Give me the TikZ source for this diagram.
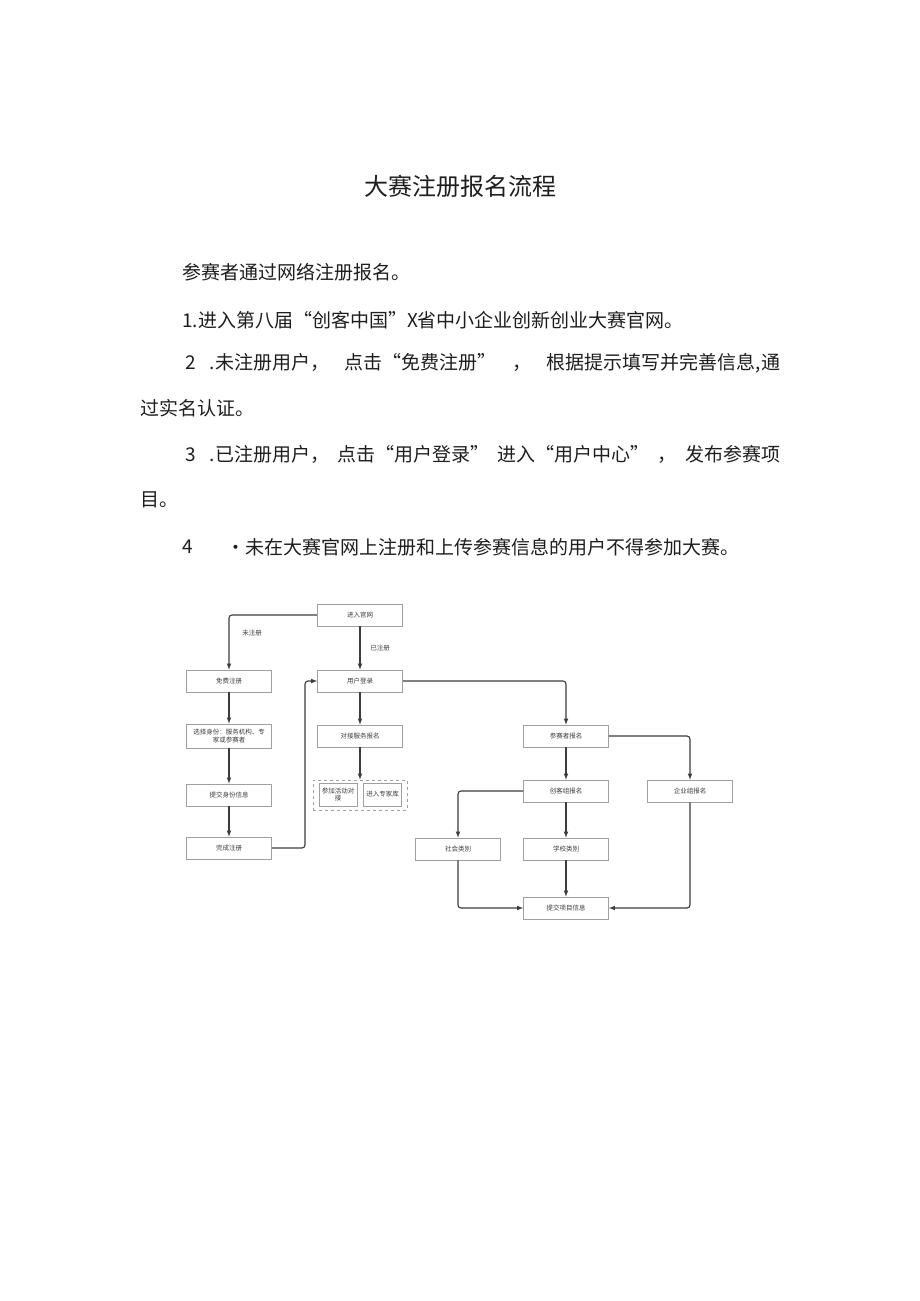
\documentclass[tikz,border=0pt]{standalone}
\usepackage{fontspec}
\setmainfont{Noto Sans CJK SC}
\usepackage{tikz}
\usetikzlibrary{calc, arrows, shapes, positioning}
\tikzset{>=latex}
\definecolor{mygray}{RGB}{160, 160, 160}
\definecolor{mydark}{RGB}{60, 60, 60}
\definecolor{mytext}{RGB}{30, 30, 30}
\tikzset{
  stepbox/.style = {draw = mygray, line width = 0.7pt, minimum width = 85pt, minimum height = 22pt,
    inner sep = 1pt, align = center, text = mydark, font = \fontsize{6.5}{7.5}\selectfont},
  smallbox/.style = {stepbox, minimum width = 38pt, minimum height = 23pt, text width = 36pt},
  flow/.style = {->, draw = mydark, line width = 1.1pt, rounded corners = 3pt},
  body/.style = {anchor = west, inner sep = 0pt, text = mytext, font = \fontsize{19}{19}\selectfont},
  tag/.style = {text = mydark, font = \fontsize{6.5}{7.5}\selectfont}
}

\begin{document}
\begin{tikzpicture}[x = 1pt, y = -1pt]
\useasboundingbox[fill = white] (0, 0) rectangle (920, 1301);

% heading and text
\node[text = mytext, font = \fontsize{24}{24}\selectfont] (title) at (460, 186) {大赛注册报名流程};
\node[body] (l0) at (182, 272) {参赛者通过网络注册报名。};
\node[body] (l1) at (182, 320) {1.进入第八届“创客中国”X省中小企业创新创业大赛官网。};
\node[body] (l2) at (185, 363) {\makebox[595pt][s]{2\hspace{14pt}.未注册用户，\hfill 点击“免费注册”\hfill ，\hfill 根据提示填写并完善信息,通}};
\node[body] (l2b) at (140, 408) {过实名认证。};
\node[body] (l3) at (185, 454) {\makebox[595pt][s]{3\hspace{14pt}.已注册用户，\hfill 点击“用户登录”\hfill 进入“用户中心”\hfill ，\hfill 发布参赛项}};
\node[body] (l3b) at (140, 500) {目。};
\node[body] (l4) at (182, 547) {4};
\node[body] (l4b) at (226, 547) {•未在大赛官网上注册和上传参赛信息的用户不得参加大赛。};

% boxes
\node[stepbox] (web) at (360, 615) {进入官网};
\node[stepbox] (free) at (229, 681) {免费注册};
\node[stepbox] (login) at (360, 681) {用户登录};
\node[stepbox, minimum height = 24pt] (choose) at (229, 736) {选择身份：服务机构、专\\家或参赛者};
\node[stepbox] (dock) at (360, 736) {对接服务报名};
\node[stepbox] (idinfo) at (229, 795) {提交身份信息};
\node[stepbox] (done) at (229, 848) {完成注册};
\node[draw = mygray, dashed, line width = 0.7pt, minimum width = 94pt, minimum height = 30pt] (grp) at (360, 795) {};
\node[smallbox] (event) at (338, 794.5) {参加活动对\\接};
\node[smallbox] (expert) at (382.5, 794.5) {进入专家库};
\node[stepbox] (entrant) at (566, 736) {参赛者报名};
\node[stepbox] (maker) at (566, 791) {创客组报名};
\node[stepbox] (corp) at (690, 791) {企业组报名};
\node[stepbox] (social) at (458, 849) {社会类别};
\node[stepbox] (school) at (566, 849) {学校类别};
\node[stepbox] (project) at (566, 908) {提交项目信息};

% labels
\node[tag] (unreg) at (252, 633) {未注册};
\node[tag] (reg) at (380, 648) {已注册};

% arrows
\coordinate (back) at (305, 848);
\draw[flow] (web.west) -| (free.north);
\draw[flow] (web) -- (login);
\draw[flow] (free) -- (choose);
\draw[flow] (choose) -- (idinfo);
\draw[flow] (idinfo) -- (done);
\draw[flow] (done.east) -- (back) |- (login.west);
\draw[flow] (login) -- (dock);
\draw[flow] (dock) -- (grp);
\draw[flow] (login.east) -| (entrant.north);
\draw[flow] (entrant.east) -| (corp.north);
\draw[flow] (entrant) -- (maker);
\draw[flow] (maker.west) -| (social.north);
\draw[flow] (maker) -- (school);
\draw[flow] (school) -- (project);
\draw[flow] (social.south) |- (project.west);
\draw[flow] (corp.south) |- (project.east);
\end{tikzpicture}
\end{document}
